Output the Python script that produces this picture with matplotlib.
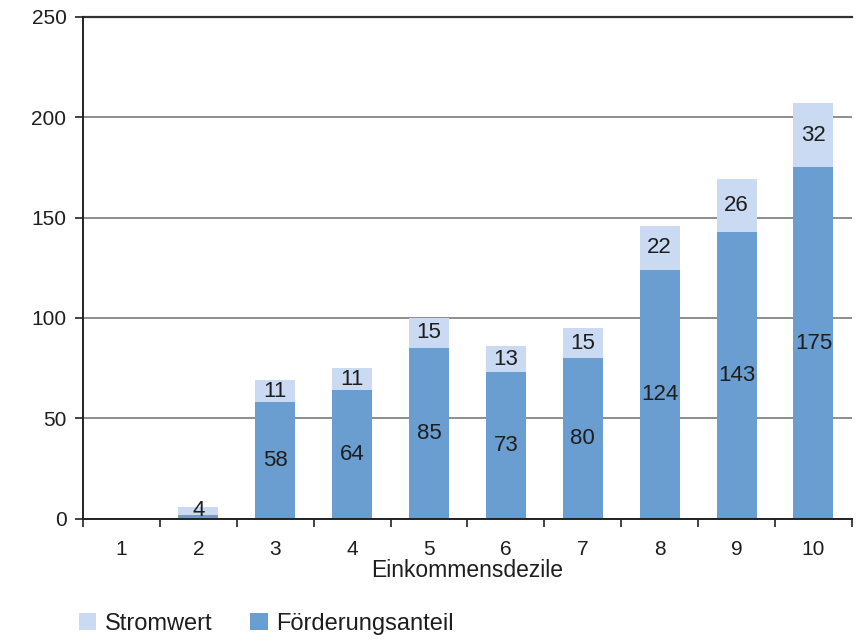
import matplotlib.pyplot as plt
import numpy as np

plt.rcParams["font.family"] = ["Liberation Sans", "DejaVu Sans"]

deciles = ["1", "2", "3", "4", "5", "6", "7", "8", "9", "10"]
foerderung = [0, 2, 58, 64, 85, 73, 80, 124, 143, 175]
stromwert = [0, 4, 11, 11, 15, 13, 15, 22, 26, 32]
yticks = [0, 50, 100, 150, 200, 250]

dark = "#6a9ed0"
light = "#cadaf2"
ink = "#1e1e1e"

fig = plt.figure(figsize=(8.57, 6.42), dpi=100)
ax = fig.add_axes([0.097, 0.192, 0.897, 0.782])

x = np.arange(len(deciles))
w = 0.52
ax.bar(x, foerderung, width=w, color=dark, zorder=2, label="Förderungsanteil")
ax.bar(x, stromwert, width=w, bottom=foerderung, color=light, zorder=2, label="Stromwert")

for xi, f, s in zip(x, foerderung, stromwert):
    if f >= 10:
        ax.text(xi, f / 2, str(f), ha="center", va="center", fontsize=16,
                color=ink, zorder=3)
    if s > 0:
        ax.text(xi, f + s / 2, str(s), ha="center", va="center", fontsize=16,
                color=ink, zorder=3)

ax.set_ylim(0, 250)
ax.set_xlim(-0.5, len(deciles) - 0.5)
ax.set_yticks(yticks)
ax.yaxis.grid(True, color="#7a7a7a", linewidth=1.2, zorder=0)
ax.set_axisbelow(True)
ax.axhline(250, color="#333333", linewidth=1.6, zorder=1, clip_on=False)

ax.set_xticks(x)
ax.set_xticklabels(deciles)
ax.tick_params(axis="x", length=0, labelsize=15, pad=15, labelcolor=ink)
ax.set_xticks(np.arange(-0.5, len(deciles), 1), minor=True)
ax.tick_params(axis="x", which="minor", length=6, width=1.2, color="#222222")
ax.tick_params(axis="y", length=6, width=1.2, labelsize=15, color="#222222",
               labelcolor=ink, pad=6)

for side in ("top", "right"):
    ax.spines[side].set_visible(False)
for side in ("left", "bottom"):
    ax.spines[side].set_linewidth(1.4)
    ax.spines[side].set_color("#222222")

ax.set_xlabel("Einkommensdezile", fontsize=16.5, labelpad=0, color=ink)

handles, labels = ax.get_legend_handles_labels()
fig.legend(handles[::-1], labels[::-1], loc="lower left", bbox_to_anchor=(0.067, -0.022),
           ncol=2, frameon=False, fontsize=17, handlelength=0.75, handleheight=0.75,
           handletextpad=0.35, columnspacing=1.6, labelcolor=ink)

fig.savefig("out.png", dpi=100)
